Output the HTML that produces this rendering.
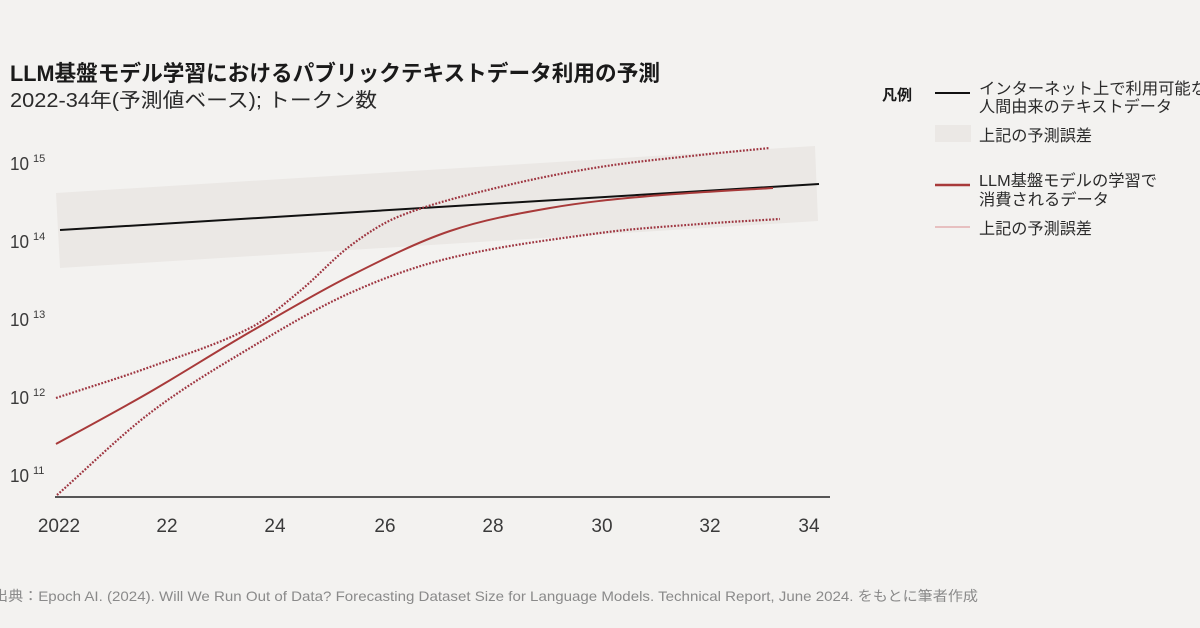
<!DOCTYPE html>
<html>
<head>
<meta charset="utf-8">
<style>
html,body{margin:0;padding:0;background:#f3f2f0;}
svg{display:block;}
text{font-family:"Liberation Sans","Noto Sans CJK JP",sans-serif;}
</style>
</head>
<body>
<svg width="1200" height="628" viewBox="0 0 1200 628" xmlns="http://www.w3.org/2000/svg">
<rect x="0" y="0" width="1200" height="628" fill="#f3f2f0"/>

<!-- Title -->
<text x="10" y="81" font-size="22" font-weight="bold" fill="#1a1a1a" textLength="650" lengthAdjust="spacingAndGlyphs">LLM基盤モデル学習におけるパブリックテキストデータ利用の予測</text>
<text x="10" y="107" font-size="20" fill="#2a2a2a" textLength="367" lengthAdjust="spacingAndGlyphs">2022-34年(予測値ベース); トークン数</text>

<!-- band -->
<polygon points="56,193 815,146 818,221 60,268" fill="#ebe8e5"/>

<!-- Y labels -->
<g fill="#3a3a3a">
<text x="10" y="170" font-size="18" textLength="19" lengthAdjust="spacingAndGlyphs">10</text>
<text x="33" y="162" font-size="11">15</text>
<text x="10" y="248" font-size="18" textLength="19" lengthAdjust="spacingAndGlyphs">10</text>
<text x="33" y="240" font-size="11">14</text>
<text x="10" y="326" font-size="18" textLength="19" lengthAdjust="spacingAndGlyphs">10</text>
<text x="33" y="318" font-size="11">13</text>
<text x="10" y="404" font-size="18" textLength="19" lengthAdjust="spacingAndGlyphs">10</text>
<text x="33" y="396" font-size="11">12</text>
<text x="10" y="482" font-size="18" textLength="19" lengthAdjust="spacingAndGlyphs">10</text>
<text x="33" y="474" font-size="11">11</text>
</g>

<!-- axis -->
<line x1="55" y1="497" x2="830" y2="497" stroke="#222" stroke-width="1.5"/>

<!-- X labels -->
<g fill="#3a3a3a" font-size="19" text-anchor="middle">
<text x="59" y="532">2022</text>
<text x="167" y="532">22</text>
<text x="275" y="532">24</text>
<text x="385" y="532">26</text>
<text x="493" y="532">28</text>
<text x="602" y="532">30</text>
<text x="710" y="532">32</text>
<text x="809" y="532">34</text>
</g>

<!-- black line -->
<line x1="60" y1="230" x2="819" y2="184" stroke="#111" stroke-width="2"/>

<!-- dotted upper bound -->
<path fill="none" stroke="#9e3540" stroke-width="2.2" stroke-dasharray="1.8 1.6"
 d="M56,398 C87.3,387.7 118.7,378.3 150,367 C183.3,355 216.7,344.9 250,328 C266.7,319.5 283.3,304.7 300,291 C316.7,277.3 333.3,258.5 350,246 C366.7,233.5 383.3,222.6 400,216 C433.3,202.9 466.7,195.2 500,187 C533.3,178.8 566.7,172.3 600,167 C633.3,161.7 666.7,158.7 700,155 C723.3,152.4 746.7,150.3 770,148"/>
<!-- dotted lower bound -->
<path fill="none" stroke="#9e3540" stroke-width="2.2" stroke-dasharray="1.8 1.6"
 d="M57,495 C88,467.7 119,436.6 150,413 C183.3,387.6 216.7,368 250,348 C283.3,328 316.7,308 350,293 C383.3,278 416.7,266 450,258 C500,246 550,239.8 600,233 C633.3,228.5 666.7,226.6 700,224 C726.7,221.9 753.3,220.7 780,219"/>

<!-- red solid -->
<path fill="none" stroke="#a83a3a" stroke-width="2"
 d="M56,444 C71.7,435.3 117.7,410.7 150,392 C182.3,373.3 216.7,351.3 250,332 C283.3,312.7 316.7,292.8 350,276 C383.3,259.2 416.7,242.3 450,231 C483.3,219.7 516.7,213.8 550,208 C583.3,202.2 612.8,199.3 650,196 C687.2,192.7 752.5,189.3 773,188"/>

<!-- Legend -->
<text x="882" y="100" font-size="15" font-weight="bold" fill="#1a1a1a">凡例</text>
<line x1="935" y1="93" x2="970" y2="93" stroke="#111" stroke-width="2"/>
<text x="979" y="94" font-size="16" fill="#2a2a2a" textLength="228" lengthAdjust="spacingAndGlyphs">インターネット上で利用可能な</text>
<text x="979" y="112" font-size="16" fill="#2a2a2a" textLength="193" lengthAdjust="spacingAndGlyphs">人間由来のテキストデータ</text>
<rect x="935" y="125" width="36" height="17" fill="#ebe8e5"/>
<text x="979" y="141" font-size="16" fill="#2a2a2a" textLength="113" lengthAdjust="spacingAndGlyphs">上記の予測誤差</text>
<line x1="935" y1="185" x2="970" y2="185" stroke="#a83a3a" stroke-width="2.5"/>
<text x="979" y="186" font-size="16" fill="#2a2a2a" textLength="178" lengthAdjust="spacingAndGlyphs">LLM基盤モデルの学習で</text>
<text x="979" y="205" font-size="16" fill="#2a2a2a" textLength="130" lengthAdjust="spacingAndGlyphs">消費されるデータ</text>
<line x1="935" y1="227" x2="970" y2="227" stroke="#e0a3a3" stroke-width="1.2"/>
<text x="979" y="234" font-size="16" fill="#2a2a2a" textLength="113" lengthAdjust="spacingAndGlyphs">上記の予測誤差</text>

<!-- Footer -->
<text x="-7" y="601" font-size="14" fill="#8a8a8a" textLength="985" lengthAdjust="spacingAndGlyphs">出典：Epoch AI. (2024). Will We Run Out of Data? Forecasting Dataset Size for Language Models. Technical Report, June 2024. をもとに筆者作成</text>
</svg>
</body>
</html>
